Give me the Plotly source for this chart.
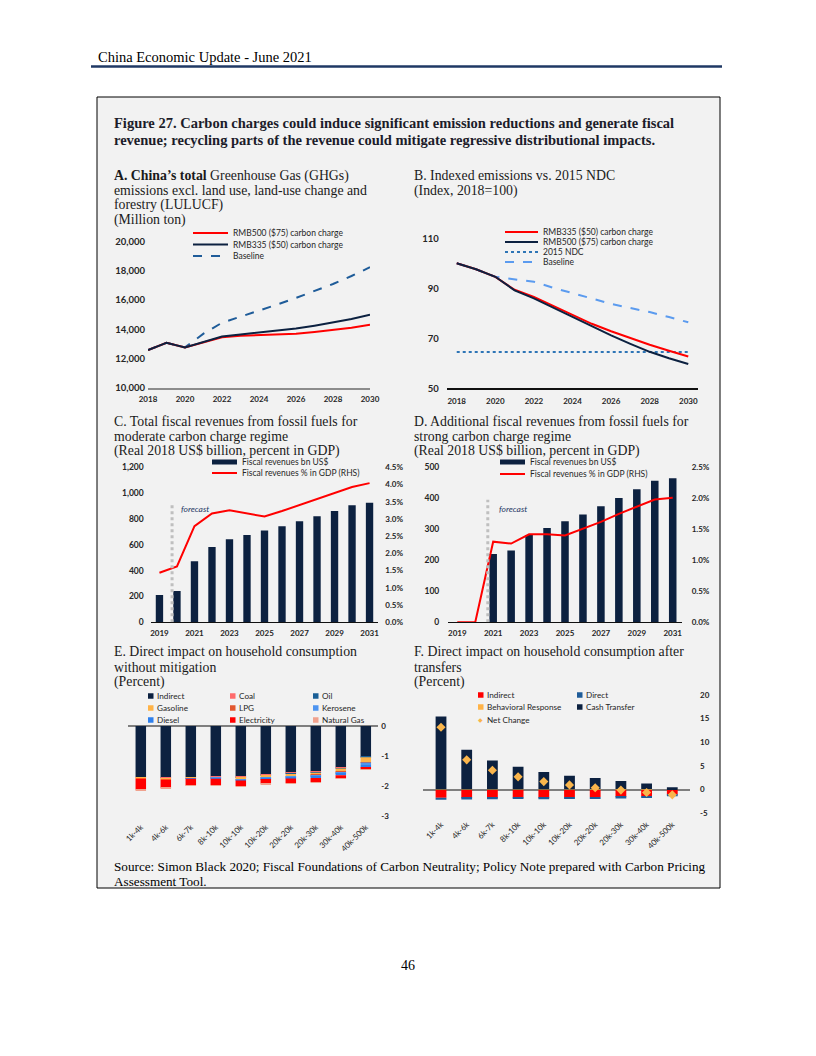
import plotly.graph_objects as go

# ---------------- DATA ----------------
years_a = [2018, 2019, 2020, 2021, 2022, 2023, 2024, 2025, 2026, 2027, 2028, 2029, 2030]
a_rmb500 = [12580, 13080, 12760, 13100, 13450, 13550, 13600, 13620, 13700, 13820, 13950, 14100, 14320]
a_rmb335 = [12580, 13080, 12760, 13150, 13500, 13650, 13780, 13870, 14050, 14250, 14450, 14700, 15000]
a_base = [12580, 13080, 12760, 13700, 14450, 14850, 15250, 15700, 16150, 16600, 17100, 17650, 18250]

b_rmb335 = [100, 97.6, 94.6, 89.4, 86.6, 83.0, 79.5, 75.8, 72.8, 70.0, 67.4, 65.0, 62.7]
b_rmb500 = [100, 97.6, 94.6, 89.2, 86.0, 82.3, 78.6, 74.8, 71.2, 67.8, 64.6, 62.0, 59.7]
b_ndc = [64.5, 64.5, 64.5, 64.5, 64.5, 64.5, 64.5, 64.5, 64.5, 64.5, 64.5, 64.5, 64.5]
b_base = [100, 97.6, 94.6, 93.6, 92.6, 90.2, 88.0, 85.8, 83.8, 82.1, 80.5, 78.5, 76.4]

years_cd = [2019, 2020, 2021, 2022, 2023, 2024, 2025, 2026, 2027, 2028, 2029, 2030, 2031]
c_rev = [212, 243, 472, 583, 643, 676, 710, 743, 782, 821, 862, 906, 926]
c_pct = [1.44, 1.62, 2.79, 3.16, 3.25, 3.16, 3.07, 3.23, 3.41, 3.59, 3.76, 3.93, 4.04]
d_rev = [0, 0, 220, 232, 282, 304, 326, 348, 374, 401, 429, 457, 465]
d_pct = [0, 0, 1.30, 1.27, 1.42, 1.42, 1.40, 1.51, 1.62, 1.75, 1.87, 1.98, 2.01]
c_pct_ticks = ['0.0%', '0.5%', '1.0%', '1.5%', '2.0%', '2.5%', '3.0%', '3.5%', '4.0%', '4.5%']
d_pct_ticks = ['0.0%', '0.5%', '1.0%', '1.5%', '2.0%', '2.5%']
c_forecast_x = 2019.72
d_forecast_x = 2020.70

income = ['1k-4k', '4k-6k', '6k-7k', '8k-10k', '10k-10k', '10k-20k', '20k-20k', '20k-30k', '30k-40k', '40k-500k']
e_indirect = [-1.71, -1.73, -1.70, -1.68, -1.69, -1.63, -1.56, -1.52, -1.39, -1.02]
e_coal = [-0.02, -0.02, -0.02, -0.02, -0.02, -0.02, -0.02, -0.02, -0.01, -0.01]
e_oil = [0, 0, 0, 0, -0.01, -0.01, -0.02, -0.02, -0.02, -0.01]
e_gasoline = [-0.02, -0.03, -0.02, -0.02, -0.05, -0.05, -0.07, -0.07, -0.10, -0.17]
e_lpg = [0, 0, 0, -0.01, -0.01, -0.01, -0.01, -0.02, -0.02, -0.01]
e_kerosene = [0, 0, -0.01, -0.01, -0.02, -0.02, -0.03, -0.03, -0.05, -0.08]
e_diesel = [0, 0, -0.01, -0.02, -0.02, -0.03, -0.04, -0.05, -0.05, -0.08]
e_electricity = [-0.37, -0.28, -0.22, -0.21, -0.18, -0.15, -0.15, -0.14, -0.10, -0.06]
e_natgas = [-0.04, -0.03, -0.02, -0.02, -0.02, -0.02, -0.02, -0.02, -0.02, -0.01]

f_indirect = [-1.71, -1.73, -1.70, -1.68, -1.69, -1.63, -1.56, -1.52, -1.39, -1.02]
f_direct = [-0.45, -0.36, -0.32, -0.31, -0.33, -0.31, -0.36, -0.37, -0.37, -0.40]
f_behav = [0.05, 0.05, 0.05, 0.05, 0.05, 0.05, 0.06, 0.06, 0.06, 0.08]
f_cash = [15.4, 8.4, 6.1, 4.8, 3.7, 2.9, 2.4, 1.75, 1.26, 0.4]
f_net = [13.2, 6.3, 4.1, 2.7, 1.7, 1.0, 0.4, -0.1, -0.6, -1.1]

# ---------------- STYLE ----------------
W, H = 816, 1056
OFF = 8  # page body margin of the browser
def px(x): return (x - OFF) / W
def py(y): return 1 - (y - OFF) / H

NAVY = '#0c2140'
RED = '#ff0000'
DBLUE = '#1f5c99'
LBLUE = '#5b9bef'
NDCB = '#2e75b6'
ORANGE = '#ffb347'
TXT = '#262626'
SERIF = 'Liberation Serif'
SANS = 'Lato'

C_E = {
    'Indirect': NAVY, 'Coal': '#ff6b6b', 'Oil': '#1a5f96',
    'Gasoline': ORANGE, 'LPG': '#e2572e', 'Kerosene': '#4d94f0',
    'Diesel': '#2f80ed', 'Electricity': RED, 'Natural Gas': '#f0a28e',
}

fig = go.Figure()

# Panel A
fig.add_trace(go.Scatter(x=years_a, y=a_base, mode='lines', line=dict(color=DBLUE, width=2, dash='dash'), xaxis='x', yaxis='y'))
fig.add_trace(go.Scatter(x=years_a, y=a_rmb500, mode='lines', line=dict(color=RED, width=2), xaxis='x', yaxis='y'))
fig.add_trace(go.Scatter(x=years_a, y=a_rmb335, mode='lines', line=dict(color=NAVY, width=2), xaxis='x', yaxis='y'))

# Panel B
fig.add_trace(go.Scatter(x=years_a, y=b_ndc, mode='lines', line=dict(color=NDCB, width=2, dash='dot'), xaxis='x2', yaxis='y2'))
fig.add_trace(go.Scatter(x=years_a, y=b_base, mode='lines', line=dict(color=LBLUE, width=2, dash='dash'), xaxis='x2', yaxis='y2'))
fig.add_trace(go.Scatter(x=years_a, y=b_rmb335, mode='lines', line=dict(color=RED, width=2), xaxis='x2', yaxis='y2'))
fig.add_trace(go.Scatter(x=years_a, y=b_rmb500, mode='lines', line=dict(color=NAVY, width=2), xaxis='x2', yaxis='y2'))

# Panel C
fig.add_trace(go.Bar(x=years_cd, y=c_rev, marker=dict(color=NAVY, line=dict(width=0)), xaxis='x3', yaxis='y3'))
fig.add_trace(go.Scatter(x=years_cd, y=c_pct, mode='lines', line=dict(color=RED, width=2), xaxis='x3', yaxis='y4'))

# Panel D
fig.add_trace(go.Bar(x=years_cd, y=d_rev, marker=dict(color=NAVY, line=dict(width=0)), xaxis='x4', yaxis='y5'))
fig.add_trace(go.Scatter(x=years_cd, y=d_pct, mode='lines', line=dict(color=RED, width=2), xaxis='x4', yaxis='y6'))

# Panel E
e_series = [('Indirect', e_indirect), ('Coal', e_coal), ('Oil', e_oil), ('Gasoline', e_gasoline),
            ('LPG', e_lpg), ('Kerosene', e_kerosene), ('Diesel', e_diesel),
            ('Electricity', e_electricity), ('Natural Gas', e_natgas)]
for name, vals in e_series:
    fig.add_trace(go.Bar(x=income, y=vals, name=name, marker=dict(color=C_E[name], line=dict(width=0)),
                         xaxis='x5', yaxis='y7'))

# Panel F
fig.add_trace(go.Bar(x=income, y=f_indirect, marker=dict(color=RED, line=dict(width=0)), xaxis='x6', yaxis='y8'))
fig.add_trace(go.Bar(x=income, y=f_direct, marker=dict(color=DBLUE, line=dict(width=0)), xaxis='x6', yaxis='y8'))
fig.add_trace(go.Bar(x=income, y=f_behav, marker=dict(color=ORANGE, line=dict(width=0)), xaxis='x6', yaxis='y8'))
fig.add_trace(go.Bar(x=income, y=f_cash, marker=dict(color=NAVY, line=dict(width=0)), xaxis='x6', yaxis='y8'))
fig.add_trace(go.Scatter(x=income, y=f_net, mode='markers', marker=dict(symbol='diamond', size=7, color='#f9b54c'),
                         xaxis='x6', yaxis='y8'))

fig.update_traces(showlegend=False, hoverinfo='skip')

def tf(size, bold=True):
    return dict(family=SANS, size=size, color=TXT, weight='bold' if bold else 'normal')

base_ax = dict(showgrid=False, zeroline=False, ticks='', fixedrange=True, automargin=False)

layout = dict(
    width=W, height=H, autosize=False,
    margin=dict(l=0, r=0, t=0, b=0, pad=0, autoexpand=False),
    paper_bgcolor='white', plot_bgcolor='rgba(0,0,0,0)',
    barmode='relative', bargap=0.58,
    showlegend=False,
    xaxis=dict(base_ax, domain=[px(148), px(370)], range=[2018, 2030], anchor='y',
               tickvals=list(range(2018, 2031, 2)), tickfont=tf(8), showline=True,
               linecolor='#8c8c8c', linewidth=2, ticklabelstandoff=3),
    yaxis=dict(base_ax, domain=[py(387.7), py(241.7)], range=[10000, 20000], anchor='x',
               tickvals=list(range(10000, 20001, 2000)), tickformat=',', tickfont=tf(9.5),
               ticklabelstandoff=2),
    xaxis2=dict(base_ax, domain=[px(446.7), px(698.3)], range=[2017.48, 2030.52], anchor='y2',
                tickvals=list(range(2018, 2031, 2)), tickfont=tf(8), showline=True,
                linecolor='#111111', linewidth=1.5, ticklabelstandoff=4),
    yaxis2=dict(base_ax, domain=[py(388.3), py(238.3)], range=[50, 110], anchor='x2',
                tickvals=[50, 70, 90, 110], tickfont=tf(9.5), ticklabelstandoff=7),
    xaxis3=dict(base_ax, domain=[px(150.7), px(378.3)], range=[2018.5, 2031.5], anchor='y3',
                tickvals=list(range(2019, 2032, 2)), tickfont=tf(8), showline=True,
                linecolor='#111111', linewidth=1, ticklabelstandoff=3),
    yaxis3=dict(base_ax, domain=[py(622.3), py(467.3)], range=[0, 1200], anchor='x3',
                tickvals=list(range(0, 1201, 200)), tickformat=',', tickfont=tf(8.5), ticklabelstandoff=6),
    yaxis4=dict(base_ax, domain=[py(622.3), py(467.3)], range=[0, 4.5], anchor='x3', overlaying='y3',
                side='right', tickvals=[0, 0.5, 1, 1.5, 2, 2.5, 3, 3.5, 4, 4.5], ticktext=c_pct_ticks,
                tickfont=tf(8), ticklabelstandoff=6),
    xaxis4=dict(base_ax, domain=[px(448.3), px(681.7)], range=[2018.5, 2031.5], anchor='y5',
                tickvals=list(range(2019, 2032, 2)), tickfont=tf(8), showline=True,
                linecolor='#111111', linewidth=1, ticklabelstandoff=3),
    yaxis5=dict(base_ax, domain=[py(622.3), py(467.3)], range=[0, 500], anchor='x4',
                tickvals=list(range(0, 501, 100)), tickfont=tf(8.5), ticklabelstandoff=8),
    yaxis6=dict(base_ax, domain=[py(622.3), py(467.3)], range=[0, 2.5], anchor='x4', overlaying='y5',
                side='right', tickvals=[0, 0.5, 1, 1.5, 2, 2.5], ticktext=d_pct_ticks,
                tickfont=tf(8), ticklabelstandoff=9),
    xaxis5=dict(base_ax, domain=[px(128.3), px(378.3)], anchor='y7', type='category',
                tickangle=-45, tickfont=tf(8, False), ticklabelstandoff=4),
    yaxis7=dict(showgrid=False, ticks='', fixedrange=True, automargin=False,
                domain=[py(816), py(726)], range=[-3, 0],
                anchor='x5', side='right', tickvals=[-3, -2, -1, 0], ticktext=['-3', '-2', '-1', '0'],
                tickfont=tf(8), zeroline=True, zerolinecolor='#7f7f7f', zerolinewidth=2,
                ticklabelstandoff=2),
    xaxis6=dict(base_ax, domain=[px(423.3), px(690)], anchor='y8', type='category',
                tickangle=-45, tickfont=tf(8, False), ticklabelstandoff=4),
    yaxis8=dict(showgrid=False, ticks='', fixedrange=True, automargin=False,
                domain=[py(813.3), py(695)], range=[-5, 20],
                anchor='x6', side='right', tickvals=[-5, 0, 5, 10, 15, 20],
                ticktext=['-5', '0', '5', '10', '15', '20'], tickfont=tf(8),
                zeroline=True, zerolinecolor='#7f7f7f', zerolinewidth=2, ticklabelstandoff=9),
)
fig.update_layout(**layout)

shapes = []
annots = []

def text(x, y, s, size=13.8, family=SERIF, color='#1a1a1a', anchor='left', **kw):
    annots.append(dict(x=px(x), y=py(y), xref='paper', yref='paper', text=s, showarrow=False,
                       xanchor=anchor, yanchor='middle', font=dict(family=family, size=size, color=color), **kw))

# page frame
shapes.append(dict(type='line', xref='paper', yref='paper', x0=px(91), x1=px(722), y0=py(66.5), y1=py(66.5),
                   line=dict(color='#1f3864', width=2.5)))
shapes.append(dict(type='rect', xref='paper', yref='paper', x0=px(97), x1=px(720), y0=py(97), y1=py(888),
                   fillcolor='#f2f2f2', line=dict(color='#000000', width=1), layer='below'))
text(96, 57, 'China Economic Update - June 2021', size=14.5, color='#000000')
text(408, 965, '46', size=14, color='#000000', anchor='center')

# figure title
text(112, 123, '<b>Figure 27. Carbon charges could induce significant emission reductions and generate fiscal</b>', size=14.5, color='#1c1c2a')
text(112, 140, '<b>revenue; recycling parts of the revenue could mitigate regressive distributional impacts.</b>', size=14.5, color='#1c1c2a')

# panel titles
text(112, 176, "<b>A. China’s total</b> Greenhouse Gas (GHGs)")
text(112, 190.5, 'emissions excl. land use, land-use change and')
text(112, 205, 'forestry (LULUCF)')
text(112, 220, '(Million ton)')
text(412, 176, 'B. Indexed emissions vs. 2015 NDC')
text(412, 190.5, '(Index, 2018=100)')
text(112, 421, 'C. Total fiscal revenues from fossil fuels for')
text(112, 436, 'moderate carbon charge regime')
text(112, 451, '(Real 2018 US$ billion, percent in GDP)')
text(412, 421, 'D. Additional fiscal revenues from fossil fuels for')
text(412, 436, 'strong carbon charge regime')
text(412, 451, '(Real 2018 US$ billion, percent in GDP)')
text(112, 651, 'E. Direct impact on household consumption')
text(112, 667, 'without mitigation')
text(112, 682, '(Percent)')
text(412, 651, 'F. Direct impact on household consumption after')
text(412, 667, 'transfers')
text(412, 682, '(Percent)')
text(112, 866, 'Source: Simon Black 2020; Fiscal Foundations of Carbon Neutrality; Policy Note prepared with Carbon Pricing', size=13.2, color='#000000')
text(112, 881, 'Assessment Tool.', size=13.2, color='#000000')

# legends (manual, compact like the reference)
def leg_line(x0, x1, y, color, dash='solid', width=2):
    shapes.append(dict(type='line', xref='paper', yref='paper', x0=px(x0), x1=px(x1), y0=py(y), y1=py(y),
                       line=dict(color=color, width=width, dash=dash)))

def leg_rect(x0, x1, y, h, color):
    shapes.append(dict(type='rect', xref='paper', yref='paper', x0=px(x0), x1=px(x1), y0=py(y + h / 2),
                       y1=py(y - h / 2), fillcolor=color, line=dict(width=0)))

def leg_text(x, y, s, size=8.5):
    text(x, y, s, size=size, family=SANS, color=TXT)

# A
for y, c, d, lab in [(233, RED, 'solid', 'RMB500 ($75) carbon charge'),
                     (244.5, NAVY, 'solid', 'RMB335 ($50) carbon charge'),
                     (256, DBLUE, 'dash', 'Baseline')]:
    leg_line(193, 228, y, c, d)
    leg_text(231, y, lab)
# B
for y, c, d, lab in [(232, RED, 'solid', 'RMB335 ($50) carbon charge'),
                     (242, NAVY, 'solid', 'RMB500 ($75) carbon charge'),
                     (252, NDCB, 'dot', '2015 NDC'),
                     (262, LBLUE, 'dash', 'Baseline')]:
    leg_line(505, 538, y, c, d)
    leg_text(541, y, lab)
# C
leg_rect(212, 237, 462, 5, NAVY)
leg_text(240, 462, 'Fiscal revenues bn US$')
leg_line(212, 237, 473, RED)
leg_text(240, 473, 'Fiscal revenues % in GDP (RHS)')
# D
leg_rect(500, 525, 462, 5, NAVY)
leg_text(528, 462, 'Fiscal revenues bn US$')
leg_line(500, 525, 474, RED)
leg_text(528, 474, 'Fiscal revenues % in GDP (RHS)')
# E
e_leg = [('Indirect', 148, 696), ('Coal', 230, 696), ('Oil', 313, 696),
         ('Gasoline', 148, 708), ('LPG', 230, 708), ('Kerosene', 313, 708),
         ('Diesel', 148, 720), ('Electricity', 230, 720), ('Natural Gas', 313, 720)]
for name, x, y in e_leg:
    leg_rect(x, x + 5.5, y, 5.5, C_E[name])
    leg_text(x + 7, y, name, size=8.2)
# F
f_leg = [('Indirect', RED, 478, 695), ('Direct', DBLUE, 577, 695),
         ('Behavioral Response', ORANGE, 478, 707), ('Cash Transfer', NAVY, 577, 707)]
for name, c, x, y in f_leg:
    leg_rect(x, x + 5.5, y, 5.5, c)
    leg_text(x + 7, y, name, size=8.2)
annots.append(dict(x=px(480.7), y=py(720), xref='paper', yref='paper', text='◆', showarrow=False,
                   xanchor='center', yanchor='middle', font=dict(size=6, color='#f9b54c')))
leg_text(485, 720, 'Net Change', size=8.2)

# forecast markers
shapes.append(dict(type='line', xref='x3', yref='y3', x0=c_forecast_x, x1=c_forecast_x, y0=0, y1=925,
                   line=dict(color='#bfbfbf', width=3, dash='dot'), layer='above'))
annots.append(dict(x=c_forecast_x + 0.4, y=880, xref='x3', yref='y3', text='<i>forecast</i>', showarrow=False,
                   xanchor='left', yanchor='middle', font=dict(family=SANS, size=8.5, color='#1f3864')))
shapes.append(dict(type='line', xref='x4', yref='y5', x0=d_forecast_x, x1=d_forecast_x, y0=0, y1=395,
                   line=dict(color='#bfbfbf', width=3, dash='dot'), layer='above'))
annots.append(dict(x=d_forecast_x + 0.5, y=365, xref='x4', yref='y5', text='<i>forecast</i>', showarrow=False,
                   xanchor='left', yanchor='middle', font=dict(family=SANS, size=8.5, color='#1f3864')))

fig.update_layout(shapes=shapes, annotations=annots)
fig.write_html('out.html')
